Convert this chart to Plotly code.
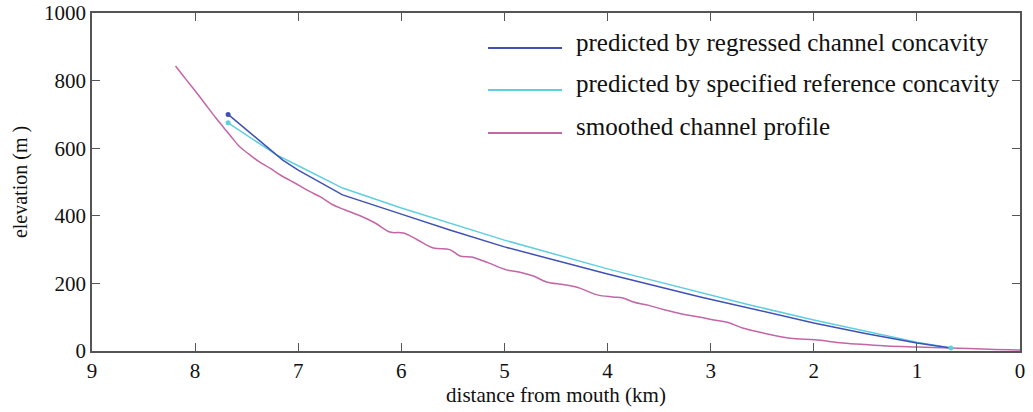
import plotly.graph_objects as go

# smoothed channel profile (distance km, elevation m)
prof_x = [8.19, 8.10, 8.00, 7.90, 7.80, 7.72, 7.64, 7.57, 7.48, 7.38, 7.27, 7.17, 7.08, 6.98, 6.89,
          6.78, 6.66, 6.55, 6.40, 6.25, 6.11, 5.98, 5.85, 5.69, 5.53, 5.43, 5.32, 5.15, 4.98, 4.85,
          4.72, 4.59, 4.42, 4.27, 4.10, 3.95, 3.85, 3.75, 3.60, 3.45, 3.27, 3.10, 2.97, 2.84, 2.69,
          2.49, 2.23, 1.99, 1.72, 1.50, 1.29, 1.00, 0.68, 0.30, 0.0]
prof_y = [843, 808, 770, 730, 690, 660, 630, 605, 583, 560, 540, 520, 505, 488, 472,
          455, 432, 418, 400, 378, 352, 349, 330, 305, 300, 281, 278, 260, 240, 233,
          222, 204, 196, 186, 166, 160, 157, 145, 135, 122, 109, 100, 92, 85, 68,
          53, 38, 33, 24, 19, 15, 12, 9, 5, 3]

# predicted by regressed channel concavity
reg_x = [7.68, 7.40, 7.15, 7.00, 6.57, 6.00, 5.53, 5.00, 4.00, 3.10, 2.62, 2.00, 1.50, 1.00, 0.67]
reg_y = [700, 630, 565, 535, 462, 405, 358, 308, 228, 160, 127, 83, 52, 24, 9]

# predicted by specified reference concavity
ref_x = [7.68, 7.21, 7.00, 6.57, 6.00, 5.53, 5.00, 4.00, 3.10, 2.62, 2.00, 1.50, 1.00, 0.67]
ref_y = [675, 580, 548, 482, 423, 379, 328, 243, 172, 136, 92, 58, 26, 9]

names = ["predicted by regressed channel concavity",
         "predicted by specified reference concavity",
         "smoothed channel profile"]
colors = ["#3f51b5", "#5fcfe0", "#c466a6"]

FONT = "Liberation Serif, Times New Roman, serif"

fig = go.Figure()
fig.add_trace(go.Scatter(x=prof_x, y=prof_y, mode="lines", line=dict(color=colors[2], width=1.5),
                         line_shape="spline", name=names[2], showlegend=False))
fig.add_trace(go.Scatter(x=ref_x, y=ref_y, mode="lines", line=dict(color=colors[1], width=1.5),
                         name=names[1], showlegend=False))
fig.add_trace(go.Scatter(x=reg_x, y=reg_y, mode="lines", line=dict(color=colors[0], width=1.5),
                         name=names[0], showlegend=False))
# end markers
fig.add_trace(go.Scatter(x=[reg_x[0]], y=[reg_y[0]], mode="markers",
                         marker=dict(color=colors[0], size=5), showlegend=False))
fig.add_trace(go.Scatter(x=[ref_x[0], ref_x[-1]], y=[ref_y[0], ref_y[-1]], mode="markers",
                         marker=dict(color=colors[1], size=5), showlegend=False))

# figure fills the window (body margin removed below)
W, H = 1033, 412
ml, mr, mt, mb = 92, 1033 - 1020, 13, 412 - 351
pw, ph = W - ml - mr, H - mt - mb

# manual legend in paper coords (page pixel positions)
leg_rows = [48, 90, 133]
for name, col, yp in zip(names, colors, leg_rows):
    yy = 1 - (yp - mt) / ph
    fig.add_shape(type="line", xref="paper", yref="paper",
                  x0=(488 - ml) / pw, x1=(562 - ml) / pw, y0=yy, y1=yy,
                  line=dict(color=col, width=2))
    fig.add_annotation(xref="paper", yref="paper", x=(574 - ml) / pw,
                       y=1 - (yp - 6 - mt) / ph,
                       text=name, showarrow=False, xanchor="left", yanchor="middle",
                       font=dict(family=FONT, size=25, color="#111"))

axis_common = dict(showline=True, linecolor="#555", linewidth=1.5, mirror="ticks",
                   ticks="inside", ticklen=8, tickcolor="#555", tickwidth=1.2,
                   showgrid=False, zeroline=False, automargin=False,
                   ticklabeloverflow="allow",
                   tickfont=dict(family=FONT, size=21, color="#111"))

fig.update_layout(
    width=W, height=H,
    margin=dict(l=ml, r=mr, t=mt, b=mb, autoexpand=False),
    plot_bgcolor="white", paper_bgcolor="white",
    showlegend=False,
    xaxis=dict(range=[9, 0], tickvals=list(range(0, 10)),
               title=dict(text="distance from mouth (km)", standoff=5,
                          font=dict(family=FONT, size=21, color="#111")),
               **axis_common),
    yaxis=dict(range=[0, 1000], tickvals=[0, 200, 400, 600, 800, 1000],
               title=dict(text="elevation (m )", standoff=11,
                          font=dict(family=FONT, size=20, color="#111")),
               **axis_common),
)

fig.write_html("out.html", config={"displayModeBar": False},
               post_script="document.body.style.margin='0';document.body.style.overflow='hidden';")
